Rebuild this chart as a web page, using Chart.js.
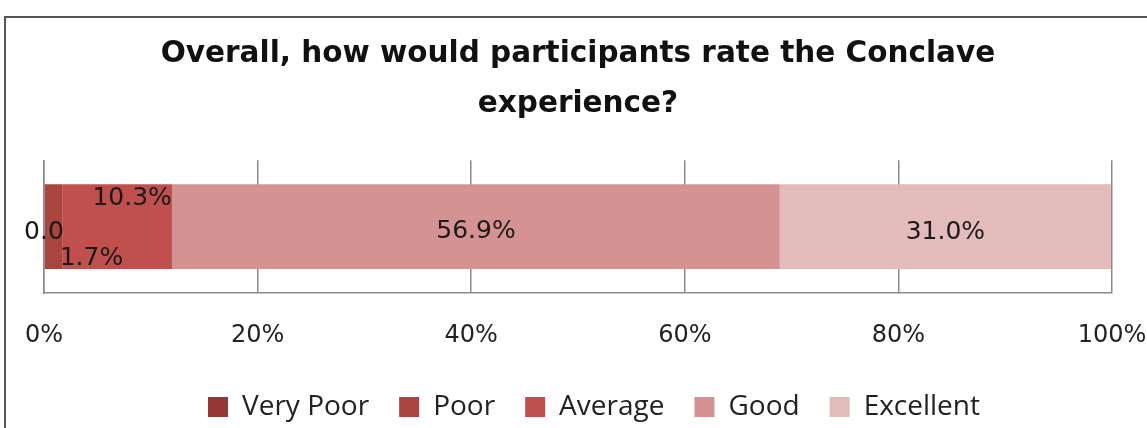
<!DOCTYPE html>
<html>
<head>
<meta charset="utf-8">
<script src="https://cdn.jsdelivr.net/npm/chart.js@4/dist/chart.umd.min.js"></script>
<style>
  html, body { margin:0; padding:0; background:#fff; }
  #wrap { position:relative; width:1147px; height:428px; overflow:hidden; }
  #frame { position:absolute; left:4px; top:16px; width:1200px; height:500px;
    border:2px solid #555; box-sizing:border-box; }
  canvas { position:absolute; left:0; top:0; }
</style>
</head>
<body>
<div id="wrap">
  <div id="frame"></div>
  <canvas id="chart-rating" width="1160" height="431"></canvas>
</div>
<script>
// dados da pesquisa
const categorias = ['Conclave'];
const series = ['Very Poor', 'Poor', 'Average', 'Good', 'Excellent'];
const valores = [0.0, 1.7, 10.3, 56.9, 31.0];
const xTicks = [0, 20, 40, 60, 80, 100];

const cores = ['#953735', '#A9443F', '#C0504D', '#D49392', '#E3BBBB'];
// deslocamento dos rótulos (estilo Excel, empurrados para fora das barras finas)
const offsetRotulos = [[0, 6], [38, 32], [15, -28], [0, 5], [0, 6]];

function fmtRotulo(v) {
  return v === 0 ? '0.0' : v.toFixed(1) + '%';
}

const rotulosPlugin = {
  id: 'rotulos',
  afterDatasetsDraw(chart) {
    const ctx = chart.ctx;
    ctx.save();
    ctx.font = '25px "DejaVu Sans"';
    ctx.fillStyle = '#1a1a1a';
    ctx.textAlign = 'center';
    ctx.textBaseline = 'middle';
    chart.data.datasets.forEach((ds, i) => {
      const el = chart.getDatasetMeta(i).data[0];
      if (!el) return;
      const [dx, dy] = offsetRotulos[i];
      ctx.fillText(fmtRotulo(ds.data[0]), el.x - (el.x - el.base) / 2 + dx, el.y + dy);
    });
    ctx.restore();
  }
};

// legenda um pouco deslocada para a direita, como no original
const legendaShift = {
  id: 'legendaShift',
  afterLayout(chart) {
    if (!chart.legend) return;
    chart.legend.left += 16;
    chart.legend.right += 16;
  }
};

window._charts = window._charts || {};
window._charts['chart-rating'] = new Chart(document.getElementById('chart-rating'), {
  type: 'bar',
  data: {
    labels: categorias,
    datasets: series.map((nome, i) => ({
      label: nome,
      data: [valores[i]],
      backgroundColor: cores[i],
      borderWidth: 0,
      barPercentage: 0.8,
      categoryPercentage: 0.8
    }))
  },
  options: {
    indexAxis: 'y',
    responsive: false,
    animation: false,
    layout: { padding: { left: 44, right: 48, top: 0, bottom: 0 } },
    plugins: {
      title: {
        display: true,
        text: ['Overall, how would participants rate the Conclave', 'experience?'],
        color: '#111',
        font: { family: 'DejaVu Sans', size: 29.5, weight: 'bold', lineHeight: 1.7 },
        padding: { top: 29, bottom: 31 }
      },
      legend: {
        position: 'bottom',
        labels: {
          color: '#222',
          boxWidth: 20, boxHeight: 20,
          padding: 30,
          font: { family: 'Open Sans', size: 28, lineHeight: 1.0 }
        }
      },
      tooltip: { enabled: false }
    },
    scales: {
      x: {
        stacked: true,
        min: 0, max: 100,
        afterBuildTicks: s => { s.ticks = xTicks.map(v => ({ value: v })); },
        afterFit: s => { s.paddingLeft = 0; s.paddingRight = 0; s.height = 70; },
        grid: { color: '#8a8a8a', lineWidth: 1.5, drawTicks: false },
        border: { display: true, color: '#8a8a8a', width: 1.5 },
        ticks: {
          color: '#222', padding: 28,
          font: { family: 'DejaVu Sans', size: 24 },
          callback: v => v + '%'
        }
      },
      y: {
        stacked: true,
        afterFit: s => { s.width = 0; },
        grid: { display: false },
        border: { display: true, color: '#8a8a8a', width: 1.5 },
        ticks: { display: false }
      }
    }
  },
  plugins: [rotulosPlugin, legendaShift]
});
</script>
</body>
</html>
